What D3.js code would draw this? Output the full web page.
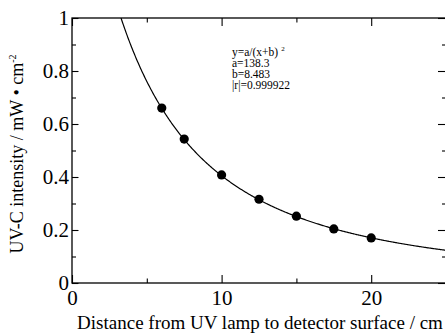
<!DOCTYPE html>
<html>
<head>
<meta charset="utf-8">
<script src="https://cdn.jsdelivr.net/npm/d3@7"></script>
<style>
  html, body { margin: 0; padding: 0; background: #fff; }
  svg, svg text { font-family: "Liberation Serif", "Times New Roman", serif; }
</style>
</head>
<body>
<svg id="chart" width="445" height="334"></svg>
<script>
// Measured UV-C intensity vs. distance from the lamp
const distances = [6, 7.5, 10, 12.5, 15, 17.5, 20];
const intensities = [0.660, 0.543, 0.408, 0.316, 0.252, 0.204, 0.170];

// Inverse-square fit y = a/(x+b)^2
const fitA = 138.3;
const fitB = 8.483;
const fitR = "0.999922";

const xMajorTicks = [0, 10, 20];
const xMinorTicks = [5, 15, 25];
const yMajorTicks = [0, 0.2, 0.4, 0.6, 0.8, 1];
const yMinorTicks = [0.1, 0.3, 0.5, 0.7, 0.9];

const svg = d3.select("#chart");
const plotLeft = 72, plotRight = 446, plotTop = 18, plotBottom = 283;

const x = d3.scaleLinear().domain([0, 25]).range([plotLeft, plotRight]);
const y = d3.scaleLinear().domain([0, 1]).range([plotBottom, plotTop]);

const yTickFmt = d => d === 0 ? "0" : d === 1 ? "1" : d3.format(".1f")(d);

// Axes with inward ticks, labels on bottom and left
function styleAxis(g) {
  g.attr("font-family", null).attr("font-size", null);
  g.select(".domain").remove();
  g.selectAll("line").attr("stroke", "#000").attr("stroke-width", 1.1);
  g.selectAll("text").style("font-family", "'Liberation Serif', serif")
    .style("font-size", "21px").attr("fill", "#000");
}

svg.append("g").attr("transform", `translate(0,${plotBottom})`)
  .call(d3.axisBottom(x).tickValues(xMajorTicks).tickSize(-8).tickPadding(7).tickFormat(d3.format("d")))
  .call(styleAxis);

svg.append("g").attr("transform", `translate(0,${plotBottom})`)
  .call(d3.axisBottom(x).tickValues(xMinorTicks).tickSize(-4.5).tickFormat(""))
  .call(styleAxis);

svg.append("g").attr("transform", `translate(0,${plotTop})`)
  .call(d3.axisTop(x).tickValues(xMajorTicks).tickSize(-8).tickFormat(""))
  .call(styleAxis);

svg.append("g").attr("transform", `translate(0,${plotTop})`)
  .call(d3.axisTop(x).tickValues(xMinorTicks).tickSize(-4.5).tickFormat(""))
  .call(styleAxis);

svg.append("g").attr("transform", `translate(${plotLeft},0)`)
  .call(d3.axisLeft(y).tickValues(yMajorTicks).tickSize(-6.5).tickPadding(3).tickFormat(yTickFmt))
  .call(styleAxis);

svg.append("g").attr("transform", `translate(${plotLeft},0)`)
  .call(d3.axisLeft(y).tickValues(yMinorTicks).tickSize(-4).tickFormat(""))
  .call(styleAxis);

svg.append("g").attr("transform", `translate(${plotRight},0)`)
  .call(d3.axisRight(y).tickValues(yMajorTicks).tickSize(-8).tickFormat(""))
  .call(styleAxis);

svg.append("g").attr("transform", `translate(${plotRight},0)`)
  .call(d3.axisRight(y).tickValues(yMinorTicks).tickSize(-4).tickFormat(""))
  .call(styleAxis);

// Frame
svg.append("rect")
  .attr("x", plotLeft).attr("y", plotTop)
  .attr("width", plotRight - plotLeft).attr("height", plotBottom - plotTop)
  .attr("fill", "none").attr("stroke", "#000").attr("stroke-width", 1.3);

// Fitted curve, clipped to the plot frame
svg.append("clipPath").attr("id", "plot-clip")
  .append("rect").attr("x", plotLeft).attr("y", plotTop)
  .attr("width", plotRight - plotLeft).attr("height", plotBottom - plotTop);

const fit = d => fitA / Math.pow(d + fitB, 2);
const xStart = Math.sqrt(fitA) - fitB;
const curveXs = d3.range(xStart, 25.01, 0.05);
svg.append("path")
  .datum(curveXs)
  .attr("clip-path", "url(#plot-clip)")
  .attr("fill", "none").attr("stroke", "#000").attr("stroke-width", 1.2)
  .attr("d", d3.line().x(d => x(d)).y(d => y(fit(d))));

// Data points
svg.append("g").selectAll("circle")
  .data(distances.map((d, i) => [d, intensities[i]]))
  .join("circle")
  .attr("cx", d => x(d[0])).attr("cy", d => y(d[1]))
  .attr("r", 4.6).attr("fill", "#000");

// Fit annotation
const note = svg.append("g").style("font-size", "11.5px").attr("fill", "#000");
const l1 = note.append("text").attr("x", 232).attr("y", 56).text("y=a/(x+b)");
l1.append("tspan").style("font-size", "7px").attr("dx", 3).attr("dy", -5).text("2");
note.append("text").attr("x", 232).attr("y", 67).text("a=" + fitA);
note.append("text").attr("x", 232).attr("y", 78).text("b=" + fitB);
note.append("text").attr("x", 232).attr("y", 89).text("|r|=" + fitR);

// Axis titles
svg.append("text")
  .attr("x", 260).attr("y", 329)
  .attr("text-anchor", "middle").style("font-size", "19px")
  .text("Distance from UV lamp to detector surface / cm");

const yt = svg.append("text")
  .attr("transform", `translate(23,154) rotate(-90)`)
  .attr("text-anchor", "middle").style("font-size", "18px")
  .text("UV-C intensity / mW \u2022 cm");
yt.append("tspan").style("font-size", "10px").attr("dy", -7).text("-2");
</script>
</body>
</html>
